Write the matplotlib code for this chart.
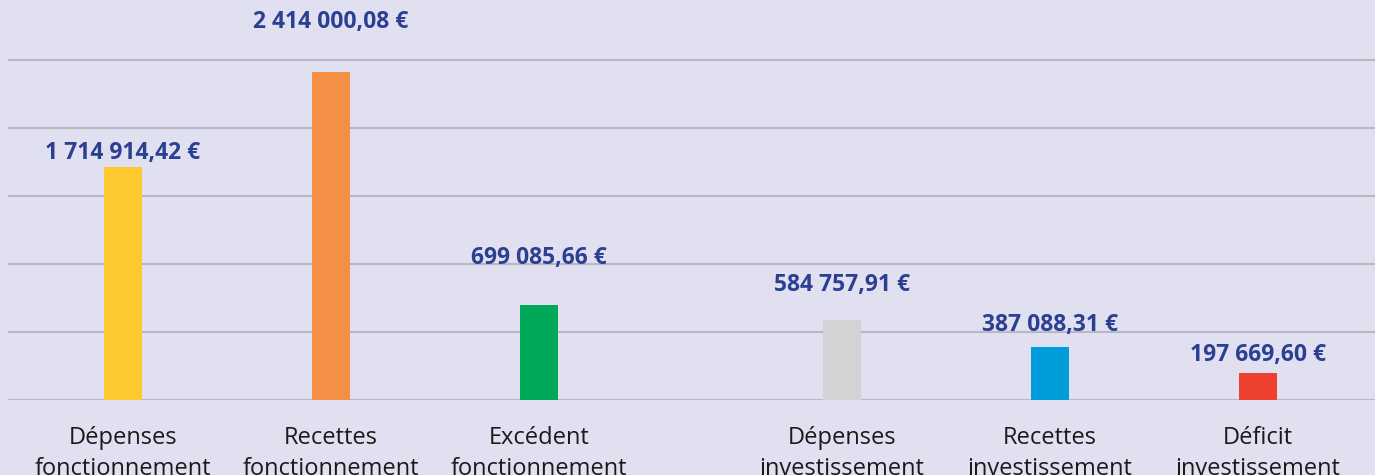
import matplotlib
matplotlib.use("Agg")
import matplotlib.pyplot as plt
import numpy as np

categories = ["Dépenses\nfonctionnement", "Recettes\nfonctionnement", "Excédent\nfonctionnement",
              "Dépenses\ninvestissement", "Recettes\ninvestissement", "Déficit\ninvestissement"]
values = [1714914.42, 2414000.08, 699085.66, 584757.91, 387088.31, 197669.60]
value_labels = ["1 714 914,42 €", "2 414 000,08 €", "699 085,66 €",
                "584 757,91 €", "387 088,31 €", "197 669,60 €"]
groups = [0, 0, 0, 1, 1, 1]

colors = ["#fec82f", "#f68f46", "#00a85a", "#d2d3d5", "#009ddb", "#ee402e"]
label_offsets = [14, 50, 47, 35, 22, 18]  # pixels above bar top
group_gap = 0.455

plt.rcParams['font.family'] = ['Open Sans', 'DejaVu Sans']
bg = "#e1e0f0"
fig = plt.figure(figsize=(13.75, 4.75), dpi=100, facecolor=bg)
ax = fig.add_axes([8/1375, 75/475, 1 - 8/1375, 400/475])
ax.set_facecolor(bg)

x = np.arange(len(values)) + group_gap * np.array(groups)
ax.bar(x, values, width=0.183, color=colors, zorder=3)

for xi, v, lab, off in zip(x, values, value_labels, label_offsets):
    ax.annotate(lab, (xi, v), xytext=(0, off * 72 / 100), textcoords="offset points",
                ha="center", va="center", fontsize=16.5, fontweight="bold", color="#2b3f93",
                annotation_clip=False)

ax.set_xlim(-0.553, x[-1] + 0.5625)
ax.set_ylim(0, 2500000 * 400 / 340)
ax.set_yticks(np.arange(0, 2500001, 500000))
ax.yaxis.grid(True, color="#b8b7c5", linewidth=1.5)
ax.set_axisbelow(True)
ax.tick_params(axis="y", left=False, labelleft=False)
ax.set_xticks(x)
ax.set_xticklabels(categories, fontsize=17, color="#1a1a1a", linespacing=1.36)
ax.tick_params(axis="x", length=0, pad=19)
for s in ax.spines.values():
    s.set_visible(False)

fig.savefig("out.png", dpi=100, facecolor=bg)
